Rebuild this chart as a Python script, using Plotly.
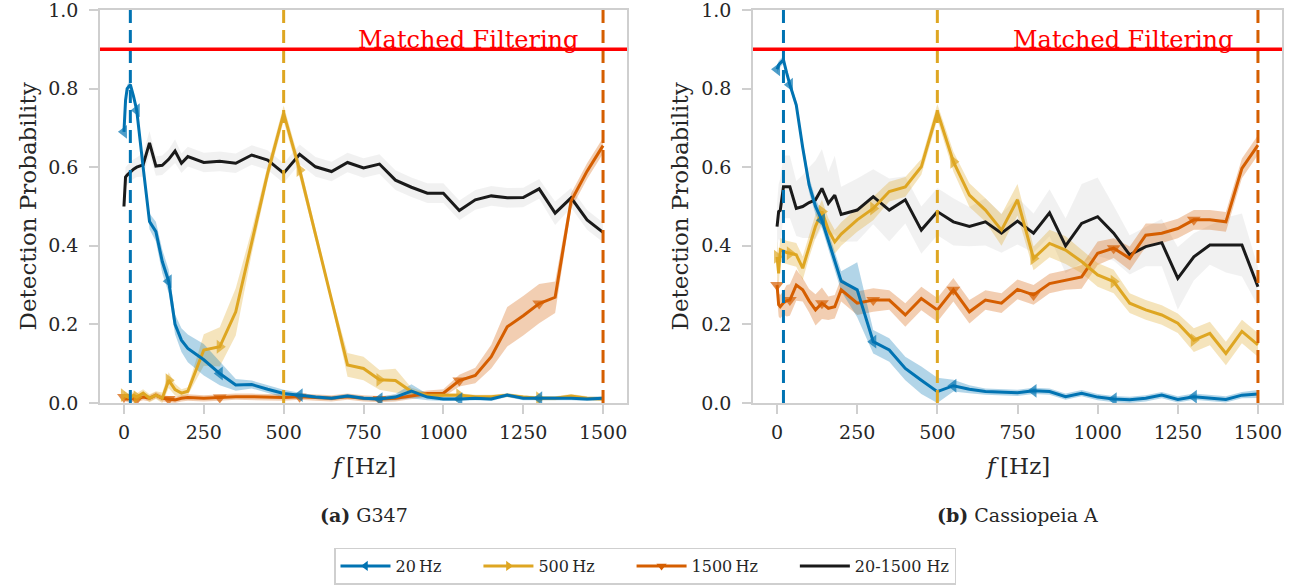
import plotly.graph_objects as go

# ---------------- data ----------------
FREQ = [0, 5, 10, 20, 30, 40, 60, 80, 100, 120, 140, 160, 180, 200, 250, 300, 350, 400, 450, 500,
        550, 600, 650, 700, 750, 800, 850, 900, 950, 1000, 1050, 1100, 1150, 1200, 1250, 1300, 1350,
        1400, 1450, 1500]

# Panel (a) G347
g347_20 = [0.69, 0.77, 0.80, 0.81, 0.78, 0.745, 0.60, 0.462, 0.436, 0.36, 0.31, 0.20, 0.16, 0.139,
           0.11, 0.075, 0.046, 0.047, 0.035, 0.024, 0.02, 0.015, 0.012, 0.018, 0.012, 0.01, 0.015,
           0.03, 0.015, 0.01, 0.01, 0.012, 0.01, 0.02, 0.012, 0.012, 0.012, 0.012, 0.01, 0.012]
g347_20_sd = [0.01, 0.01, 0.01, 0.01, 0.01, 0.01, 0.015, 0.02, 0.025, 0.03, 0.03, 0.025, 0.03,
              0.035, 0.04, 0.03, 0.015, 0.01, 0.01, 0.01, 0.006, 0.005, 0.005, 0.005, 0.005, 0.005,
              0.008, 0.018, 0.008, 0.005, 0.005, 0.005, 0.005, 0.005, 0.005, 0.005, 0.005, 0.005,
              0.005, 0.005]
g347_500 = [0.02, 0.018, 0.015, 0.012, 0.02, 0.015, 0.025, 0.012, 0.02, 0.012, 0.058, 0.034, 0.025,
            0.03, 0.135, 0.143, 0.232, 0.41, 0.585, 0.737, 0.593, 0.428, 0.263, 0.097, 0.088, 0.059,
            0.057, 0.029, 0.02, 0.02, 0.02, 0.016, 0.016, 0.02, 0.015, 0.012, 0.012, 0.018, 0.012,
            0.01]
g347_500_sd = [0.01, 0.01, 0.01, 0.01, 0.01, 0.01, 0.01, 0.01, 0.01, 0.015, 0.02, 0.015, 0.01, 0.01,
               0.04, 0.05, 0.06, 0.03, 0.02, 0.02, 0.02, 0.015, 0.01, 0.03, 0.03, 0.025, 0.03, 0.01,
               0.006, 0.005, 0.005, 0.005, 0.005, 0.005, 0.005, 0.005, 0.005, 0.005, 0.005, 0.005]
g347_1500 = [0.015, 0.012, 0.01, 0.012, 0.01, 0.01, 0.015, 0.012, 0.02, 0.012, 0.01, 0.008, 0.012,
             0.014, 0.012, 0.014, 0.016, 0.016, 0.015, 0.014, 0.016, 0.014, 0.012, 0.016, 0.012,
             0.01, 0.012, 0.018, 0.024, 0.025, 0.057, 0.07, 0.118, 0.194, 0.222, 0.253, 0.269,
             0.514, 0.59, 0.655]
g347_1500_sd = [0.008, 0.008, 0.008, 0.008, 0.008, 0.008, 0.008, 0.008, 0.008, 0.008, 0.008, 0.008,
                0.008, 0.008, 0.008, 0.008, 0.008, 0.008, 0.008, 0.008, 0.008, 0.008, 0.008, 0.008,
                0.008, 0.008, 0.008, 0.008, 0.008, 0.01, 0.015, 0.02, 0.03, 0.05, 0.05, 0.05, 0.04,
                0.02, 0.02, 0.02]
g347_all = [0.50, 0.575, 0.58, 0.588, 0.595, 0.60, 0.606, 0.662, 0.603, 0.605, 0.62, 0.641, 0.61,
            0.627, 0.612, 0.615, 0.61, 0.631, 0.618, 0.585, 0.633, 0.601, 0.589, 0.612, 0.598,
            0.608, 0.567, 0.549, 0.534, 0.534, 0.49, 0.517, 0.527, 0.522, 0.523, 0.545, 0.483,
            0.522, 0.466, 0.434]
g347_all_sd = [0.02, 0.025, 0.025, 0.025, 0.025, 0.025, 0.03, 0.03, 0.025, 0.025, 0.025, 0.03, 0.025,
               0.025, 0.025, 0.025, 0.025, 0.025, 0.025, 0.025, 0.025, 0.025, 0.025, 0.025, 0.025,
               0.025, 0.025, 0.025, 0.025, 0.025, 0.025, 0.025, 0.025, 0.025, 0.025, 0.025, 0.03,
               0.025, 0.025, 0.025]

# Panel (b) Cassiopeia A
cas_20 = [0.849, 0.86, 0.865, 0.873, 0.84, 0.81, 0.758, 0.65, 0.555, 0.50, 0.465, 0.415, 0.36, 0.31,
          0.288, 0.156, 0.135, 0.088, 0.058, 0.029, 0.044, 0.035, 0.029, 0.027, 0.026, 0.031, 0.029,
          0.016, 0.025, 0.015, 0.01, 0.008, 0.012, 0.02, 0.009, 0.016, 0.012, 0.009, 0.02, 0.023]
cas_20_sd = [0.01, 0.01, 0.01, 0.01, 0.01, 0.01, 0.01, 0.015, 0.02, 0.02, 0.02, 0.02, 0.02, 0.025,
             0.07, 0.03, 0.03, 0.03, 0.035, 0.035, 0.015, 0.01, 0.008, 0.008, 0.008, 0.008, 0.008,
             0.008, 0.008, 0.008, 0.008, 0.008, 0.008, 0.008, 0.008, 0.008, 0.008, 0.008, 0.008, 0.01]
cas_500 = [0.372, 0.33, 0.39, 0.386, 0.383, 0.381, 0.377, 0.343, 0.40, 0.45, 0.487, 0.44, 0.41, 0.43,
           0.466, 0.495, 0.538, 0.55, 0.601, 0.741, 0.614, 0.529, 0.491, 0.44, 0.517, 0.368, 0.406,
           0.389, 0.36, 0.326, 0.309, 0.254, 0.237, 0.224, 0.203, 0.16, 0.177, 0.126, 0.182, 0.148]
cas_500_sd = [0.04, 0.04, 0.03, 0.03, 0.03, 0.03, 0.03, 0.03, 0.03, 0.03, 0.03, 0.03, 0.03, 0.03,
              0.03, 0.03, 0.025, 0.025, 0.02, 0.02, 0.025, 0.03, 0.03, 0.04, 0.04, 0.03, 0.035,
              0.035, 0.03, 0.03, 0.03, 0.025, 0.025, 0.025, 0.025, 0.03, 0.03, 0.03, 0.03, 0.03]
cas_1500 = [0.30, 0.25, 0.245, 0.255, 0.26, 0.262, 0.30, 0.288, 0.26, 0.237, 0.254, 0.241, 0.245,
            0.288, 0.254, 0.262, 0.262, 0.224, 0.266, 0.237, 0.288, 0.232, 0.262, 0.254, 0.289,
            0.275, 0.304, 0.313, 0.321, 0.381, 0.394, 0.368, 0.427, 0.432, 0.444, 0.466, 0.466,
            0.461, 0.597, 0.656]
cas_1500_sd = [0.03, 0.03, 0.03, 0.03, 0.04, 0.04, 0.04, 0.03, 0.03, 0.04, 0.04, 0.03, 0.03, 0.03,
               0.03, 0.03, 0.025, 0.03, 0.03, 0.03, 0.03, 0.03, 0.025, 0.025, 0.025, 0.025, 0.025,
               0.025, 0.03, 0.03, 0.025, 0.03, 0.03, 0.025, 0.025, 0.025, 0.025, 0.025, 0.025, 0.025]
cas_all = [0.449, 0.487, 0.49, 0.55, 0.55, 0.55, 0.495, 0.50, 0.51, 0.517, 0.546, 0.508, 0.529, 0.48,
           0.491, 0.525, 0.491, 0.517, 0.44, 0.487, 0.461, 0.449, 0.461, 0.432, 0.463, 0.432, 0.484,
           0.40, 0.457, 0.474, 0.432, 0.377, 0.398, 0.408, 0.317, 0.372, 0.402, 0.402, 0.402, 0.296]
cas_all_sd = [0.06, 0.07, 0.08, 0.08, 0.08, 0.08, 0.07, 0.08, 0.09, 0.1, 0.1, 0.08, 0.1, 0.07, 0.08,
              0.07, 0.08, 0.06, 0.06, 0.06, 0.06, 0.05, 0.06, 0.05, 0.06, 0.05, 0.06, 0.07, 0.1, 0.1,
              0.07, 0.05, 0.05, 0.06, 0.08, 0.06, 0.05, 0.07, 0.08, 0.05]

TARGET_FREQS = [20, 500, 1500]
MF_LEVEL = 0.9
SERIES_NAMES = ["20\u2009Hz", "500\u2009Hz", "1500\u2009Hz", "20-1500 Hz"]
PANEL_TITLES = ["<b>(a)</b> G347", "<b>(b)</b> Cassiopeia A"]
Y_TICKS = [0.0, 0.2, 0.4, 0.6, 0.8, 1.0]
X_TICKS = [0, 250, 500, 750, 1000, 1250, 1500]

# ---------------- style ----------------
BLUE = "#0173b2"
GOLD = "#dea622"
ORANGE = "#d55e00"
BLACK = "#1a1a1a"
FILLS = ["rgba(1,115,178,0.30)", "rgba(222,166,34,0.30)", "rgba(213,94,0,0.30)",
         "rgba(0,0,0,0.055)"]
COLORS = [BLUE, GOLD, ORANGE, BLACK]
SYMBOLS = ["triangle-left", "triangle-right", "triangle-down", None]
FONT = "DejaVu Serif"
TXT = "#262626"
MARK_EVERY = 5
GRAY = "#cfcfcf"
LEGEND_PAD = "\u2003\u2003"   # column spacing between legend entries

panels = [
    [(g347_20, g347_20_sd), (g347_500, g347_500_sd), (g347_1500, g347_1500_sd), (g347_all, g347_all_sd)],
    [(cas_20, cas_20_sd), (cas_500, cas_500_sd), (cas_1500, cas_1500_sd), (cas_all, cas_all_sd)],
]

fig = go.Figure()
draw_order = [3, 2, 1, 0]

for p, series in enumerate(panels):
    xa = "x" if p == 0 else "x2"
    ya = "y" if p == 0 else "y2"
    for k in draw_order:
        mean, sd = series[k]
        up = [m + s for m, s in zip(mean, sd)]
        lo = [max(m - s, 0.0) for m, s in zip(mean, sd)]
        fig.add_trace(go.Scatter(
            x=FREQ + FREQ[::-1], y=up + lo[::-1], fill="toself", fillcolor=FILLS[k],
            line=dict(width=0), mode="lines", hoverinfo="skip", showlegend=False,
            xaxis=xa, yaxis=ya))
    for k in draw_order:
        mean, sd = series[k]
        if SYMBOLS[k] is None:
            fig.add_trace(go.Scatter(x=FREQ, y=mean, mode="lines",
                                     line=dict(color=COLORS[k], width=3),
                                     showlegend=False, xaxis=xa, yaxis=ya))
        else:
            sizes = [12 if i % MARK_EVERY == 0 else 0 for i in range(len(FREQ))]
            fig.add_trace(go.Scatter(x=FREQ, y=mean, mode="lines+markers",
                                     line=dict(color=COLORS[k], width=3),
                                     marker=dict(symbol=SYMBOLS[k], size=sizes, color=COLORS[k],
                                                 line=dict(width=0)),
                                     showlegend=False, xaxis=xa, yaxis=ya))
    for k, f0 in enumerate(TARGET_FREQS):
        fig.add_trace(go.Scatter(x=[f0, f0], y=[0, 1], mode="lines",
                                 line=dict(color=COLORS[k], width=3, dash="13px,7px"),
                                 showlegend=False, hoverinfo="skip", xaxis=xa, yaxis=ya))
    fig.add_trace(go.Scatter(x=[-75, 1575], y=[MF_LEVEL, MF_LEVEL], mode="lines",
                             line=dict(color="#ff0000", width=3.5),
                             showlegend=False, hoverinfo="skip", xaxis=xa, yaxis=ya))
    fig.add_annotation(x=1428, y=MF_LEVEL, xref=xa, yref=ya, text="Matched Filtering",
                       showarrow=False, xanchor="right", yanchor="bottom", yshift=-7,
                       font=dict(family=FONT, size=24, color="#ff0000"))

# legend-only traces
for k in range(4):
    label = SERIES_NAMES[k] + (LEGEND_PAD if k < 3 else "")
    if SYMBOLS[k] is None:
        fig.add_trace(go.Scatter(x=[None], y=[None], mode="lines", name=label,
                                 line=dict(color=COLORS[k], width=3)))
    else:
        fig.add_trace(go.Scatter(x=[None], y=[None], mode="lines+markers", name=label,
                                 line=dict(color=COLORS[k], width=3),
                                 marker=dict(symbol=SYMBOLS[k], size=9, color=COLORS[k])))

W, H = 1298, 586
doms = [(100 / W, 627 / W), (753 / W, 1282 / W)]
ydom = (1 - 403 / H, 1 - 10 / H)

axis_common = dict(showline=True, mirror=True, linecolor=GRAY, linewidth=1.5, ticks="outside",
                   tickcolor=GRAY, tickwidth=1.5, ticklen=9, showgrid=False, zeroline=False,
                   ticklabeloverflow="allow",
                   tickfont=dict(family=FONT, size=19, color=TXT))

fig.update_layout(
    width=W, height=H, margin=dict(l=0, r=0, t=0, b=0, autoexpand=False),
    paper_bgcolor="white", plot_bgcolor="white",
    xaxis=dict(domain=doms[0], range=[-75, 1575], tickvals=X_TICKS, anchor="y",
               ticklabelstandoff=2, **axis_common),
    yaxis=dict(domain=ydom, range=[0, 1], tickvals=Y_TICKS, tickformat=".1f", anchor="x",
               ticklabelstandoff=7, **axis_common),
    xaxis2=dict(domain=doms[1], range=[-75, 1575], tickvals=X_TICKS, anchor="y2",
                ticklabelstandoff=2, **axis_common),
    yaxis2=dict(domain=ydom, range=[0, 1], tickvals=Y_TICKS, tickformat=".1f", anchor="x2",
                ticklabelstandoff=7, **axis_common),
    showlegend=True,
    legend=dict(orientation="h", x=645 / W, xanchor="center", y=1 - 566 / H, yanchor="middle",
                bordercolor=GRAY, borderwidth=1.5, bgcolor="white",
                font=dict(family=FONT, size=16, color=TXT), itemwidth=50),
)

for p in range(2):
    cx = (doms[p][0] + doms[p][1]) / 2
    fig.add_annotation(x=cx, y=1 - 466 / H, xref="paper", yref="paper",
                       text="<i>f</i>\u2009[Hz]", showarrow=False,
                       xanchor="center", yanchor="middle",
                       font=dict(family=FONT, size=23, color=TXT))
    fig.add_annotation(x=cx, y=1 - 515 / H, xref="paper", yref="paper",
                       text=PANEL_TITLES[p], showarrow=False,
                       xanchor="center", yanchor="middle",
                       font=dict(family=FONT, size=19, color=TXT))
    fig.add_annotation(x=(28 if p == 0 else 680) / W, y=(ydom[0] + ydom[1]) / 2,
                       xref="paper", yref="paper", text="Detection Probability",
                       textangle=-90, showarrow=False, xanchor="center", yanchor="middle",
                       font=dict(family=FONT, size=23, color=TXT))

fig.write_html("out.html", config={"displayModeBar": False},
               post_script="document.body.style.margin='0px';")
